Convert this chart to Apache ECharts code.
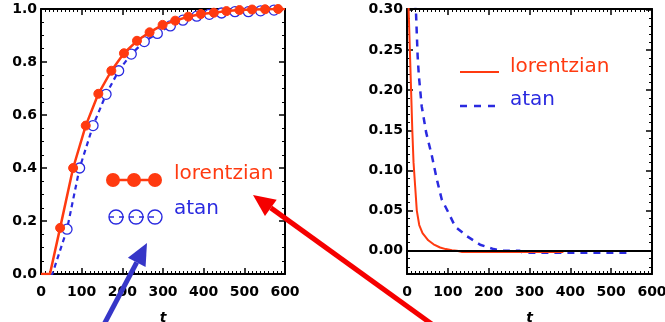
<!DOCTYPE html>
<html>
<head>
<meta charset="utf-8">
<script src="https://cdn.jsdelivr.net/npm/echarts@6/dist/echarts.min.js"></script>
<style>
html,body{margin:0;padding:0;background:#fff;}
#c{width:665px;height:322px;}
</style>
</head>
<body>
<div id="c"></div>
<script>
// ---- Left panel: cumulative curves ----
var lorentzLine = [[0,0],[22,0]];
var lorentzPts = [[47,0.174],[79,0.40],[110,0.56],[141,0.68],[173,0.767],[204,0.833],[236,0.88],[267,0.912],[299,0.94],[330,0.956],[362,0.971],[393,0.981],[425,0.986],[456,0.992],[488,0.996],[519,0.998],[551,0.999],[583,1.0]];
var lorentzEnd = [[600,1.0]];
var atanLine = [[0,0],[28,0]];
var atanPts = [[64,0.169],[95,0.40],[128,0.56],[160,0.678],[191,0.767],[222,0.83],[254,0.877],[286,0.908],[318,0.936],[349,0.958],[383,0.973],[414,0.98],[444,0.985],[477,0.99],[510,0.99],[540,0.993],[573,0.996]];
var atanEnd = [[600,0.997]];

// ---- Right panel: difference curves ----
var lorentzDiff = [[1,0.34],[4,0.30],[7,0.25],[10,0.20],[13,0.15],[16,0.11],[20,0.08],[24,0.05],[30,0.032],[38,0.022],[52,0.013],[65,0.008],[81,0.004],[95,0.002],[110,0.0005],[122,0],[135,-0.0015],[383,-0.0015]];
var atanDiff = [[17,0.36],[20,0.31],[22,0.297],[26,0.243],[29,0.218],[36,0.18],[47,0.147],[61,0.118],[73,0.089],[85,0.064],[102,0.047],[118,0.030],[147,0.018],[179,0.0075],[212,0.002],[235,0],[275,0],[285,-0.0025],[545,-0.0025]];

var leftYTicks = [0,0.2,0.4,0.6,0.8,1.0];
var rightYTicks = [0,0.05,0.10,0.15,0.20,0.25,0.30];
var rightYMinor = [-0.02,-0.01,0.01,0.02,0.03,0.04,0.06,0.07,0.08,0.09,0.11,0.12,0.13,0.14,0.16,0.17,0.18,0.19,0.21,0.22,0.23,0.24,0.26,0.27,0.28,0.29];
var xTicks = [0,100,200,300,400,500,600];

var RED = '#ff3a10';
var BLUE = '#2a2ae0';
var FONT = 'DejaVu Sans';

function mk(arr, sym){ return arr.map(function(p){ return sym ? p : {value:p, symbol:'none'}; }); }

var lorData = mk(lorentzLine,false).concat(mk(lorentzPts,true)).concat(mk(lorentzEnd,false));
var atanData = mk(atanLine,false).concat(mk(atanPts,true)).concat(mk(atanEnd,false));

var axLine = {show:true, onZero:false, lineStyle:{color:'#000', width:2}};
var LBL = {color:'#000', fontFamily:FONT, fontWeight:'bold', fontSize:14};
function xAx(grid, pos, labels, name){
  return {type:'value', gridIndex:grid, position:pos, min:0, max:600, interval:100,
    axisLine:axLine, splitLine:{show:false},
    axisTick:{show:true, inside:true, length:6, lineStyle:{color:'#000', width:1.5}},
    minorTick:{show:true, splitNumber:10, length:3, lineStyle:{color:'#000', width:1}},
    axisLabel:Object.assign({show:labels, margin:11}, LBL),
    name:name||'', nameLocation:'middle', nameGap:37,
    nameTextStyle:{color:'#000', fontFamily:FONT, fontStyle:'italic', fontWeight:'bold', fontSize:14}};
}
function yLeftAx(pos, labels){
  return {type:'value', gridIndex:0, position:pos, min:0, max:1, interval:0.2,
    axisLine:axLine, splitLine:{show:false},
    axisTick:{show:true, inside:true, length:6, lineStyle:{color:'#000', width:1.5}},
    minorTick:{show:true, splitNumber:4, length:3, lineStyle:{color:'#000', width:1}},
    axisLabel:Object.assign({show:labels, margin:4, formatter:function(v){return v.toFixed(1);}}, LBL)};
}
var RMIN = -0.029, RMAX = 0.301;
function yRightAx(pos, labels){
  return {type:'value', gridIndex:1, position:pos, min:RMIN, max:RMAX,
    axisLine:axLine, splitLine:{show:false},
    axisTick:{show:true, inside:true, length:6, customValues:rightYTicks, lineStyle:{color:'#000', width:1.5}},
    axisLabel:Object.assign({show:labels, customValues:rightYTicks, margin:4, formatter:function(v){return v.toFixed(2);}}, LBL)};
}
function yRightMinor(pos){
  return {type:'value', gridIndex:1, position:pos, min:RMIN, max:RMAX,
    axisLine:{show:false, onZero:false}, splitLine:{show:false},
    axisTick:{show:true, inside:true, length:3, customValues:rightYMinor, lineStyle:{color:'#000', width:1}},
    axisLabel:{show:false, customValues:rightYMinor}};
}

var chart = echarts.init(document.getElementById('c'), null, {renderer:'canvas'});

function arrow(tip, tail, color, headLen, headHalf, w){
  var dx = tail[0]-tip[0], dy = tail[1]-tip[1];
  var L = Math.sqrt(dx*dx+dy*dy); var ux = dx/L, uy = dy/L;
  var bx = tip[0]+ux*headLen, by = tip[1]+uy*headLen;
  var px = -uy, py = ux;
  return [
    {type:'line', z:100, shape:{x1:bx, y1:by, x2:tail[0], y2:tail[1]}, style:{stroke:color, lineWidth:w}},
    {type:'polygon', z:100, shape:{points:[[tip[0],tip[1]],[bx+px*headHalf, by+py*headHalf],[bx-px*headHalf, by-py*headHalf]]}, style:{fill:color}}
  ];
}

var graphics = [];
// left legend
graphics.push({type:'line', z:50, shape:{x1:113,y1:180,x2:155,y2:180}, style:{stroke:RED, lineWidth:2.5}});
[113,134,155].forEach(function(x){ graphics.push({type:'circle', z:51, shape:{cx:x, cy:180, r:7}, style:{fill:RED}}); });
graphics.push({type:'line', z:50, shape:{x1:109,y1:217,x2:159,y2:217}, style:{stroke:BLUE, lineWidth:1.5, lineDash:[5,5]}});
[116,136,155].forEach(function(x){ graphics.push({type:'circle', z:51, shape:{cx:x, cy:217, r:7}, style:{fill:'none', stroke:BLUE, lineWidth:1.4}}); });
graphics.push({type:'text', z:52, x:174, y:174, style:{text:'lorentzian', fill:RED, font:'20px "DejaVu Sans"', textVerticalAlign:'middle'}});
graphics.push({type:'text', z:52, x:174, y:209, style:{text:'atan', fill:BLUE, font:'20px "DejaVu Sans"', textVerticalAlign:'middle'}});
// right legend
graphics.push({type:'line', z:50, shape:{x1:460,y1:72,x2:499,y2:72}, style:{stroke:RED, lineWidth:2}});
graphics.push({type:'line', z:50, shape:{x1:460,y1:106,x2:499,y2:106}, style:{stroke:BLUE, lineWidth:2.5, lineDash:[7,7]}});
graphics.push({type:'text', z:52, x:510, y:67, style:{text:'lorentzian', fill:RED, font:'20px "DejaVu Sans"', textVerticalAlign:'middle'}});
graphics.push({type:'text', z:52, x:510, y:100, style:{text:'atan', fill:BLUE, font:'20px "DejaVu Sans"', textVerticalAlign:'middle'}});
// arrows
graphics = graphics.concat(arrow([253,195],[440,330],'#f50000',22,10,5));
graphics = graphics.concat(arrow([147,243],[100,332],'#3636c8',22,10,5));

chart.setOption({
  animation:false,
  backgroundColor:'#fff',
  grid:[
    {left:41, right:380, top:9, bottom:48, containLabel:false, outerBoundsMode:'none'},
    {left:407, right:13, top:9, bottom:48, containLabel:false, outerBoundsMode:'none'}
  ],
  xAxis:[xAx(0,'bottom',true,'t'), xAx(0,'top',false), xAx(1,'bottom',true,'t'), xAx(1,'top',false)],
  yAxis:[yLeftAx('left',true), yLeftAx('right',false), yRightAx('left',true), yRightAx('right',false), yRightMinor('left'), yRightMinor('right')],
  series:[
    {type:'line', xAxisIndex:0, yAxisIndex:0, data:atanData, symbol:'circle', symbolSize:10, showAllSymbol:true,
      itemStyle:{color:'#fff', borderColor:BLUE, borderWidth:1.3}, lineStyle:{color:BLUE, width:2.2, type:[5,4]}, z:3},
    {type:'line', xAxisIndex:0, yAxisIndex:0, data:lorData, symbol:'circle', symbolSize:9, showAllSymbol:true,
      itemStyle:{color:RED, borderColor:RED}, lineStyle:{color:RED, width:2.5}, z:4},
    {type:'line', xAxisIndex:2, yAxisIndex:2, data:atanDiff, symbol:'none', clip:true,
      lineStyle:{color:BLUE, width:2.5, type:[7,6]}, z:3},
    {type:'line', xAxisIndex:2, yAxisIndex:2, data:lorentzDiff, symbol:'none', clip:true,
      lineStyle:{color:RED, width:2}, z:4,
      markLine:{silent:true, symbol:'none', label:{show:false}, lineStyle:{color:'#000', width:2, type:'solid'}, data:[{yAxis:0}], z:10}}
  ],
  graphic:graphics
});
</script>
</body>
</html>
